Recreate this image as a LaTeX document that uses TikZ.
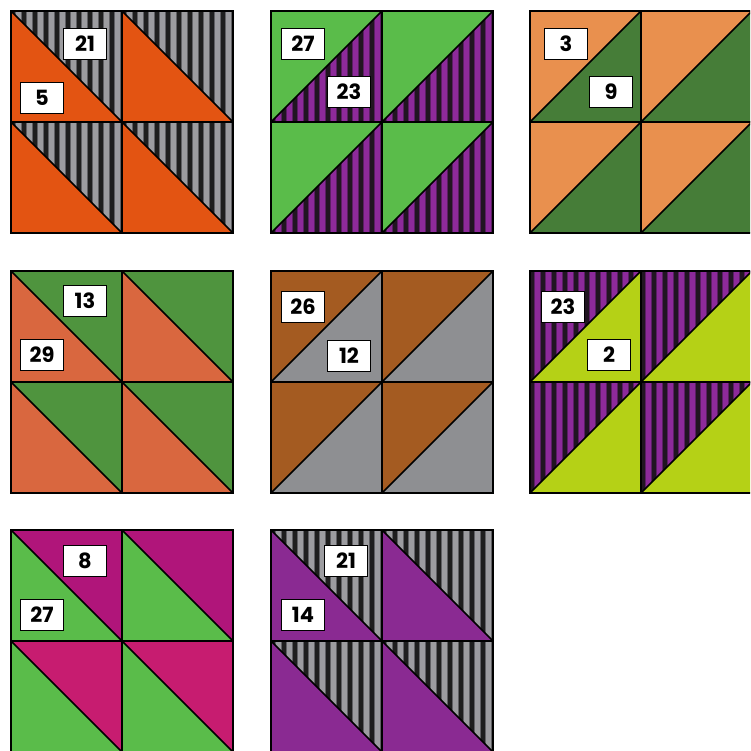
\documentclass[tikz,border=0pt]{standalone}
\usepackage{fontspec}
\newfontfamily\numfont{Poppins}
\usepackage{tikz}
\definecolor{orangeA}{HTML}{E35412}
\definecolor{greenA}{HTML}{5ABC4A}
\definecolor{orangeB}{HTML}{E9904E}
\definecolor{greenB}{HTML}{467D38}
\definecolor{orangeC}{HTML}{D9673F}
\definecolor{greenC}{HTML}{4F943E}
\definecolor{brownA}{HTML}{A45B21}
\definecolor{greyA}{HTML}{8E8F92}
\definecolor{limeA}{HTML}{B5D116}
\definecolor{magentaA}{HTML}{B0157A}
\definecolor{magentaB}{HTML}{C71C70}
\definecolor{purpleA}{HTML}{8A2A92}
\definecolor{stripeGD}{HTML}{1E1E1E}
\definecolor{stripeGM}{HTML}{606064}
\definecolor{stripeGL}{HTML}{9C9CA0}
\definecolor{stripePD}{HTML}{211521}
\definecolor{stripePM}{HTML}{5A1F63}
\definecolor{stripePL}{HTML}{8D2A9A}
\tikzset{
  seam/.style={draw=black, line width=1.6pt, line join=miter},
  numbox/.style={draw=black, line width=1.3pt, fill=white, text=black,
    minimum width=43pt, minimum height=31pt, inner sep=0pt,
    font=\numfont\bfseries\fontsize{21}{21}\selectfont},
  stripes/.style n args={3}{fill=#1, path picture={
    \foreach \k in {0,...,10} {
      \fill[#2] ([xshift=\k*11pt+4pt]path picture bounding box.north west)
        rectangle ++(7pt,-114pt);
      \fill[#3] ([xshift=\k*11pt+5pt]path picture bounding box.north west)
        rectangle ++(5pt,-114pt);}}},
  greystripes/.style={stripes={stripeGD}{stripeGM}{stripeGL}},
  purplestripes/.style={stripes={stripePD}{stripePM}{stripePL}}}
% half-square, diagonal top-left to bottom-right: #3 lower-left, #4 upper-right
\newcommand{\hsqdown}[4]{%
  \path[#3] (#1,#2) -- ++(0,111) -- ++(111,0) -- cycle;
  \path[#4] (#1,#2) -- ++(111,0) -- ++(0,111) -- cycle;
  \draw[seam] (#1,#2) rectangle ++(111,111) (#1,#2) -- ++(111,111);}
% half-square, diagonal bottom-left to top-right: #3 upper-left, #4 lower-right
\newcommand{\hsqup}[4]{%
  \path[#3] (#1,#2) -- ++(111,0) -- ++(-111,111) -- cycle;
  \path[#4] (#1,#2) ++(111,0) -- ++(0,111) -- ++(-111,0) -- cycle;
  \draw[seam] (#1,#2) rectangle ++(111,111) (#1,#2) ++(0,111) -- ++(111,-111);}
\begin{document}
\begin{tikzpicture}[x=1pt, y=-1pt]
  \clip (0,0) rectangle (750,751);
  \fill[white] (0,0) rectangle (750,751);
  % row 1
  \foreach \dx in {0,111} \foreach \dy in {0,111}
    \hsqdown{11+\dx}{11+\dy}{fill=orangeA}{greystripes};
  \foreach \dx in {0,111} \foreach \dy in {0,111}
    \hsqup{271+\dx}{11+\dy}{fill=greenA}{purplestripes};
  \foreach \dx in {0,111} \foreach \dy in {0,111}
    \hsqup{530+\dx}{11+\dy}{fill=orangeB}{fill=greenB};
  % row 2
  \foreach \dx in {0,111} \foreach \dy in {0,111}
    \hsqdown{11+\dx}{271+\dy}{fill=orangeC}{fill=greenC};
  \foreach \dx in {0,111} \foreach \dy in {0,111}
    \hsqup{271+\dx}{271+\dy}{fill=brownA}{fill=greyA};
  \foreach \dx in {0,111} \foreach \dy in {0,111}
    \hsqup{530+\dx}{271+\dy}{purplestripes}{fill=limeA};
  % row 3
  \foreach \dx in {0,111} {
    \hsqdown{11+\dx}{530}{fill=greenA}{fill=magentaA};
    \hsqdown{11+\dx}{641}{fill=greenA}{fill=magentaB};}
  \foreach \dx in {0,111} \foreach \dy in {0,111}
    \hsqdown{271+\dx}{530+\dy}{fill=purpleA}{greystripes};
  % labels
  \node[numbox] (a1) at (85,44)   {21};
  \node[numbox] (a2) at (42,98)   {5};
  \node[numbox] (b1) at (303,44)  {27};
  \node[numbox] (b2) at (349,92)  {23};
  \node[numbox] (c1) at (566,44)  {3};
  \node[numbox] (c2) at (611,92)  {9};
  \node[numbox] (d1) at (85,301)  {13};
  \node[numbox] (d2) at (42,355)  {29};
  \node[numbox] (e1) at (303,307) {26};
  \node[numbox] (e2) at (349,356) {12};
  \node[numbox] (f1) at (563,307) {23};
  \node[numbox] (f2) at (609,355) {2};
  \node[numbox] (g1) at (85,561)  {8};
  \node[numbox] (g2) at (42,615)  {27};
  \node[numbox] (h1) at (346,561) {21};
  \node[numbox] (h2) at (303,615) {14};
\end{tikzpicture}
\end{document}
